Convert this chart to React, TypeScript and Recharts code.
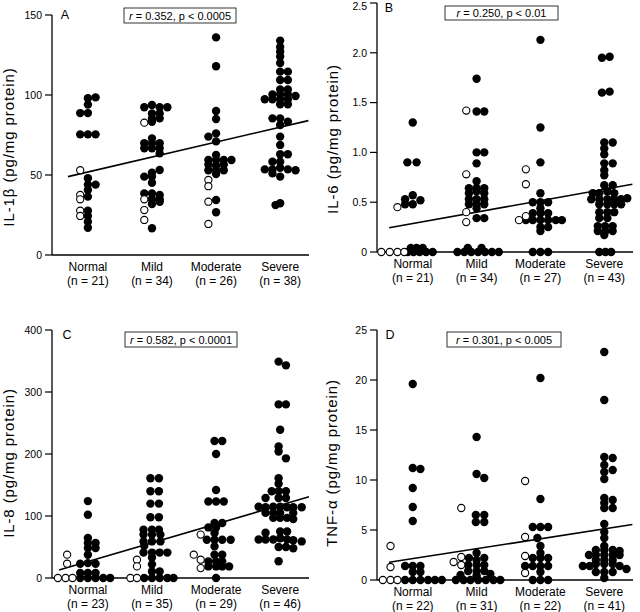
import React from 'react';
import { ScatterChart, Scatter, XAxis, YAxis, ReferenceLine } from 'recharts';

const FONT = '"Liberation Sans", Arial, Helvetica, sans-serif';
const categories = ['Normal', 'Mild', 'Moderate', 'Severe'];
const SLOT = 0.12; // horizontal spacing of stacked dots, in category units

type Pt = [number, number]; // [stack column, value]

// ---------- Panel A : IL-1β ----------
const aCounts = [21, 34, 26, 38];
const aNormalFilled: Pt[] = [[0,98],[1,98.5],[0,94],[-1,88.7],[0,88.7],[-1,75.4],[0,75.4],[1,75.4],[0,48],[0,44],[1,44],[0,40.6],[0,36.5],[0,27.7],[0,24.4],[0,20.8],[0,17]];
const aNormalOpen: Pt[] = [[-1,53],[-1,37.5],[-1,34.8],[-1,27.7],[-1,24.4]];
const aMildFilled: Pt[] = [[-1,92.3],[0,93.8],[1,92.3],[2,92.3],[0,88.5],[1,88.5],[0,85.4],[1,85.4],[0,83.3],[0,72.9],[-1,69.8],[0,69.8],[1,69.8],[-1,66.7],[0,66.7],[1,66.7],[1,63.5],[1,53.1],[0,51.5],[-1,49],[0,49],[0,45.2],[-1,38.5],[0,38.5],[1,37.5],[0,34.8],[1,34.8],[0,31.9],[1,33.3],[0,16.7]];
const aMildOpen: Pt[] = [[-1,82.7],[-1,34.8],[-1,28.1],[-1,21.9]];
const aModFilled: Pt[] = [[0,136],[0,118],[0,90],[0,85],[-1,74],[0,76],[0,71],[0,62.5],[-1,59.4],[0,59.4],[1,59.4],[2,59.4],[-1,56.5],[0,56],[1,56.5],[-1,53],[0,53],[1,53],[0,50.6],[0,34.4],[0,26.7]];
const aModOpen: Pt[] = [[-1,46.9],[-1,43],[-1,33.3],[-1,19.4]];
const aSevFilled: Pt[] = [[0,134],[0,130],[0,127],[0,124],[0,120],[0,114.6],[1,114.6],[0,109.4],[1,109.4],[0,103.5],[1,103.5],[-1,100.4],[0,100.4],[1,100.4],[-2,97.3],[-1,97.3],[0,97.3],[1,97.3],[2,99.4],[0,94.2],[1,94.2],[-1,85.4],[0,85.4],[1,83.3],[0,81.2],[0,74],[0,68.8],[0,63],[1,63],[-1,58.3],[0,58.3],[-2,53.5],[-1,53.5],[0,54.5],[1,53.5],[2,53],[-1,51],[0,49],[0,32.3],[-0.6,31.2]];
const aSevOpen: Pt[] = [];
const aReg = [{ x: 0.69, y: 49 }, { x: 4.44, y: 84 }];

// ---------- Panel B : IL-6 ----------
const bCounts = [21, 34, 27, 43];
const bNormalFilled: Pt[] = [[0,1.30],[-0.7,0.90],[0.5,0.90],[0,0.57],[-1,0.53],[1,0.52],[-1,0.48],[0,0.48],[-0.65,0],[0.1,0],[0.9,0],[1.75,0],[2.6,0],[-0.25,0.04],[0.5,0.04],[1.3,0.04]];
const bNormalOpen: Pt[] = [[-2,0.45],[-4.1,0],[-3,0],[-2,0],[-1.1,0]];
const bMildFilled: Pt[] = [[0,1.74],[0,1.41],[1,1.41],[0,1.00],[1,1.00],[0,0.89],[0,0.71],[-1,0.64],[0,0.64],[1,0.64],[-1,0.59],[0,0.61],[1,0.59],[-1,0.53],[0,0.53],[1,0.53],[-1,0.48],[0,0.48],[1,0.48],[0,0.44],[0,0.34],[1,0.34],[-2.5,0],[-1.6,0],[-0.7,0],[0.2,0],[1.1,0],[2,0],[2.9,0],[-1.15,0.04],[0.65,0.04]];
const bMildOpen: Pt[] = [[-1.35,1.42],[-1.35,0.78],[-1.35,0.40],[-1.35,0.30]];
const bModFilled: Pt[] = [[0,2.13],[0,1.25],[0,0.90],[0,0.59],[-1,0.50],[0,0.50],[1,0.50],[0,0.44],[-1,0.39],[0,0.39],[1,0.39],[-1.9,0.32],[-1,0.32],[0,0.32],[1,0.32],[2,0.32],[2.8,0.32],[0,0.25],[1,0.25],[0,0.21],[-1,0],[0,0],[1,0]];
const bModOpen: Pt[] = [[-1.9,0.83],[-1.9,0.68],[-1.9,0.36],[-2.8,0.32]];
const bSevFilled: Pt[] = [[-0.3,1.95],[0.7,1.96],[-0.3,1.60],[0.7,1.61],[0,1.10],[1.1,1.10],[0,1.04],[0,0.98],[0,0.89],[1.1,0.89],[0,0.82],[0,0.77],[0,0.67],[1.1,0.67],[-1.5,0.59],[-0.65,0.59],[0.4,0.61],[1.3,0.59],[-1.7,0.53],[-0.65,0.53],[0.4,0.53],[1.3,0.53],[2.2,0.53],[3,0.54],[-0.65,0.48],[0.4,0.48],[1.3,0.48],[2.2,0.48],[-0.65,0.40],[0.4,0.40],[1.3,0.40],[-0.65,0.34],[0.4,0.34],[-0.85,0.26],[0.1,0.26],[1.1,0.26],[-0.85,0.21],[0.15,0.21],[1.1,0.21],[0,0.17],[-0.65,0],[0.15,0],[0.9,0]];
const bSevOpen: Pt[] = [];
const bReg = [{ x: 0.63, y: 0.243 }, { x: 4.44, y: 0.68 }];

// ---------- Panel C : IL-8 ----------
const cCounts = [23, 35, 29, 46];
const cNormalFilled: Pt[] = [[0,124],[0,102],[0,64.5],[0,56.5],[1,56.5],[0,48.4],[1,48.4],[0,37.6],[-1,23],[0,24],[1,23],[-1,8],[0,8],[1,8],[-1,0],[0,0],[1,0],[2,0],[2.9,0]];
const cNormalOpen: Pt[] = [[-2.7,37.6],[-2.7,23],[-3.9,0],[-2.9,0],[-2,0]];
const cMildFilled: Pt[] = [[-0.2,161],[0.9,161],[-0.2,140],[0.9,140],[-0.2,120],[0.9,120],[-0.2,98],[0.9,98],[-1.1,78],[0,78],[0.9,78],[-1.1,70],[0,70],[1.1,70],[-1.1,59],[0,59],[1.1,59],[-1,52],[-1.1,41],[0,41],[1,41],[2,41],[0,33],[0,22],[0,10.6],[1,10.6],[-1,0],[0,0],[1,0],[2,0],[2.8,0]];
const cMildOpen: Pt[] = [[-1.95,29.5],[-1.95,18.7],[-2.8,0],[-1.95,0]];
const cModFilled: Pt[] = [[-0.2,221],[0.8,221],[0,200],[0,142],[-1,123.5],[0,123.5],[1,123.5],[-0.2,88.7],[0.8,88.7],[-1,81.6],[0,81.6],[-0.2,72.6],[-1.2,61.8],[-0.2,61.8],[0.8,61.8],[1.9,61.8],[-0.2,51],[-0.2,37.6],[0.8,37.6],[-1,26.8],[0,26.8],[0.8,26.8],[-1,18.7],[0,18.7],[0.8,18.7],[1.7,18.7],[0,0]];
const cModOpen: Pt[] = [[-2,70],[-2.9,37.6],[-2,29.5],[-2,16]];
const cSevFilled: Pt[] = [[-0.2,349],[0.75,343],[-0.2,280],[0.75,280],[0,239],[-0.2,212],[-0.2,204],[0.75,193],[-0.2,161],[-0.2,152],[-1.1,140],[-0.2,140],[0.75,140],[-1.9,129],[-0.2,129],[0.75,129],[-2.8,115],[-1.9,114],[-0.9,115],[0,115],[0.9,114],[1.7,114],[2.8,114],[-1.9,105],[-0.9,105],[0,105],[1.7,105],[-0.9,97],[0,97],[0.9,97],[1.7,95],[-1.9,73],[0,75],[0.9,75],[-2.8,62],[-1.9,62],[-0.9,62],[0,64],[0.9,62],[1.7,61],[2.8,59],[-0.2,50],[0.75,50],[1.7,48],[-0.2,27]];
const cSevOpen: Pt[] = [];
const cReg = [{ x: 0.55, y: 13 }, { x: 4.45, y: 131 }];

// ---------- Panel D : TNF-α ----------
const dCounts = [22, 31, 22, 41];
const dNormalFilled: Pt[] = [[0,19.6],[0,11.2],[1,11.1],[0,9.2],[0,7.3],[0,5.9],[-1,1.4],[0,1.4],[1,1.4],[0,0.8],[1,0.8],[-1,0],[0,0],[1,0],[2,0],[2.9,0],[3.8,0]];
const dNormalOpen: Pt[] = [[-2.9,3.4],[-2.9,1.3],[-3.9,0],[-2.9,0],[-2,0]];
const dMildFilled: Pt[] = [[0,14.3],[0,10.6],[1,10.2],[-0.1,6.5],[1,6.5],[-0.1,5.8],[1,5.8],[0,2.7],[-1,2.2],[1,2.2],[0,2.0],[-1.1,1.5],[0,1.5],[1,1.5],[-1.1,0.9],[0,0.9],[1,0.9],[-2.1,0.5],[0,0.45],[1.8,0.6],[-2.7,0],[-1.7,0],[-0.8,0],[0.2,0],[1.2,0],[2.2,0],[3.1,0]];
const dMildOpen: Pt[] = [[-2,7.2],[-3,1.8],[-2,2.3],[-2,1.5]];
const dModFilled: Pt[] = [[0,20.2],[0,8.1],[-1,5.3],[0,5.3],[1,5.3],[-0.4,4.2],[0,3.4],[0,2.7],[-1,2.2],[0,2.2],[1,2.2],[-2,1.4],[-1,1.4],[0,1.4],[1,1.4],[0,0.8],[-1,0],[0,0],[1,0]];
const dModOpen: Pt[] = [[-2,9.9],[-2,4.3],[-2,2.4],[-2,0.7]];
const dSevFilled: Pt[] = [[0,22.8],[0,18],[0,12.3],[1.1,12.2],[0,11.5],[1.1,11.0],[0,10.8],[0,10.1],[0,8.2],[1.1,8.0],[0,7.7],[0,7.2],[1.1,7.2],[0,5.6],[0,4.8],[0,4.2],[0,3.4],[-1.1,3.0],[0,3.0],[1.1,3.0],[2,2.9],[-2,2.5],[-1.1,2.5],[0,2.5],[1.1,2.5],[2,2.5],[-1.1,2.0],[0,2.0],[1.1,2.0],[-2.8,1.4],[-1.9,1.4],[-1.1,1.6],[0,1.6],[1.1,1.6],[2,1.4],[2.9,1.1],[-1.1,0.8],[0,0.8],[1.1,0.8],[0,0.2]];
const dSevOpen: Pt[] = [];
const dReg = [{ x: 0.63, y: 1.77 }, { x: 4.44, y: 5.55 }];

const build = (groups: Pt[][]) =>
  groups.flatMap((g, i) => g.map(([s, v]) => ({ x: i + 1 + s * SLOT, y: v })));

const FilledDot = (p: any) => <circle cx={p.cx} cy={p.cy} r={4.2} fill="#000" />;
const OpenDot = (p: any) => (
  <circle cx={p.cx} cy={p.cy} r={3.6} fill="#fff" stroke="#000" strokeWidth={1.1} />
);

const CatTick = (props: any) => {
  const { x, y, payload, counts } = props;
  const i = Math.round(payload.value) - 1;
  return (
    <g>
      <text x={x} y={y + 16} textAnchor="middle" fontSize={12} fill="#000" fontFamily={FONT}>
        {categories[i]}
      </text>
      <text x={x} y={y + 29.5} textAnchor="middle" fontSize={12} fill="#000" fontFamily={FONT}>
        {`(n = ${counts[i]})`}
      </text>
    </g>
  );
};

const ValTick = (props: any) => {
  const { x, y, payload, fmt } = props;
  const yy = Math.max(y, 6);
  return (
    <text x={x} y={yy} dy={3.8} textAnchor="end" fontSize={10.5} fill="#000" fontFamily={FONT}>
      {fmt(payload.value)}
    </text>
  );
};

function Panel(props: any) {
  const { left, top, margin, yDomain, yTicks, fmt, filled, open, reg, counts } = props;
  return (
    <div style={{ position: 'absolute', left, top }}>
      <ScatterChart width={320} height={306} margin={margin}>
        <XAxis
          type="number"
          dataKey="x"
          domain={[0.44, 4.45]}
          ticks={[1, 2, 3, 4]}
          interval={0}
          tick={<CatTick counts={counts} />}
          tickLine={false}
          tickSize={0}
          tickMargin={0}
          axisLine={{ stroke: '#000', strokeWidth: 1.3 }}
          height={30}
        />
        <YAxis
          type="number"
          dataKey="y"
          domain={yDomain}
          ticks={yTicks}
          interval={0}
          width={40}
          tick={<ValTick fmt={fmt} />}
          tickSize={7}
          tickMargin={3}
          tickLine={{ stroke: '#000', strokeWidth: 1.2 }}
          axisLine={{ stroke: '#000', strokeWidth: 1.3 }}
        />
        <ReferenceLine segment={reg} stroke="#000" strokeWidth={1.6} ifOverflow="visible" />
        <Scatter data={filled} shape={FilledDot} isAnimationActive={false} />
        <Scatter data={open} shape={OpenDot} isAnimationActive={false} />
      </ScatterChart>
    </div>
  );
}

const RBox = ({ x, y, w, h, text }: any) => (
  <g>
    <rect x={x} y={y} width={w} height={h} fill="#fff" stroke="#000" strokeWidth={0.8} />
    <text x={x + w / 2} y={y + h / 2 + 4} textAnchor="middle" fontSize={11} fontFamily={FONT} fill="#000">
      <tspan fontStyle="italic">r</tspan>
      {` = ${text}`}
    </text>
  </g>
);

const YLab = ({ x, y, text }: any) => (
  <text
    x={x}
    y={y}
    transform={`rotate(-90 ${x} ${y})`}
    textAnchor="middle"
    dominantBaseline="central"
    fontSize={15}
    letterSpacing={0.9}
    fontFamily={FONT}
    fill="#000"
  >
    {text}
  </text>
);

const Letter = ({ x, y, t }: any) => (
  <text x={x} y={y} textAnchor="middle" dominantBaseline="central" fontSize={12.5} fontFamily={FONT} fill="#000">
    {t}
  </text>
);

const fmtInt = (v: number) => String(v);
const fmtDec = (v: number) => (v === 0 ? '0' : v.toFixed(1));

export default function App() {
  return (
    <div style={{ position: 'absolute', left: 0, top: 0, width: 640, height: 612, background: '#fff', overflow: 'hidden' }}>
      <Panel
        left={0}
        top={0}
        margin={{ top: 15, right: 11, left: 12, bottom: 21 }}
        yDomain={[0, 150]}
        yTicks={[0, 50, 100, 150]}
        fmt={fmtInt}
        filled={build([aNormalFilled, aMildFilled, aModFilled, aSevFilled])}
        open={build([aNormalOpen, aMildOpen, aModOpen, aSevOpen])}
        reg={aReg}
        counts={aCounts}
      />
      <Panel
        left={320}
        top={0}
        margin={{ top: 3, right: 7, left: 17, bottom: 24 }}
        yDomain={[0, 2.5]}
        yTicks={[0, 0.5, 1, 1.5, 2, 2.5]}
        fmt={fmtDec}
        filled={build([bNormalFilled, bMildFilled, bModFilled, bSevFilled])}
        open={build([bNormalOpen, bMildOpen, bModOpen, bSevOpen])}
        reg={bReg}
        counts={bCounts}
      />
      <Panel
        left={0}
        top={306}
        margin={{ top: 24, right: 11, left: 12, bottom: 4 }}
        yDomain={[0, 400]}
        yTicks={[0, 100, 200, 300, 400]}
        fmt={fmtInt}
        filled={build([cNormalFilled, cMildFilled, cModFilled, cSevFilled])}
        open={build([cNormalOpen, cMildOpen, cModOpen, cSevOpen])}
        reg={cReg}
        counts={cCounts}
      />
      <Panel
        left={320}
        top={306}
        margin={{ top: 24, right: 7, left: 17, bottom: 2 }}
        yDomain={[0, 25]}
        yTicks={[0, 5, 10, 15, 20, 25]}
        fmt={fmtInt}
        filled={build([dNormalFilled, dMildFilled, dModFilled, dSevFilled])}
        open={build([dNormalOpen, dMildOpen, dModOpen, dSevOpen])}
        reg={dReg}
        counts={dCounts}
      />
      <svg width={640} height={612} style={{ position: 'absolute', left: 0, top: 0, pointerEvents: 'none' }}>
        <Letter x={65} y={15} t="A" />
        <Letter x={389} y={8} t="B" />
        <Letter x={67} y={335} t="C" />
        <Letter x={390} y={335} t="D" />
        <RBox x={124} y={8} w={112} h={15} text="0.352, p < 0.0005" />
        <RBox x={445} y={6} w={113} h={14} text="0.250, p < 0.01" />
        <RBox x={125} y={332} w={112} h={15} text="0.582, p < 0.0001" />
        <RBox x={447} y={332} w={114} h={15} text="0.301, p < 0.005" />
        <YLab x={8} y={147} text="IL-1β (pg/mg protein)" />
        <YLab x={332} y={139} text="IL-6 (pg/mg protein)" />
        <YLab x={8} y={463} text="IL-8 (pg/mg protein)" />
        <YLab x={331} y={463} text="TNF-α (pg/mg protein)" />
      </svg>
    </div>
  );
}
